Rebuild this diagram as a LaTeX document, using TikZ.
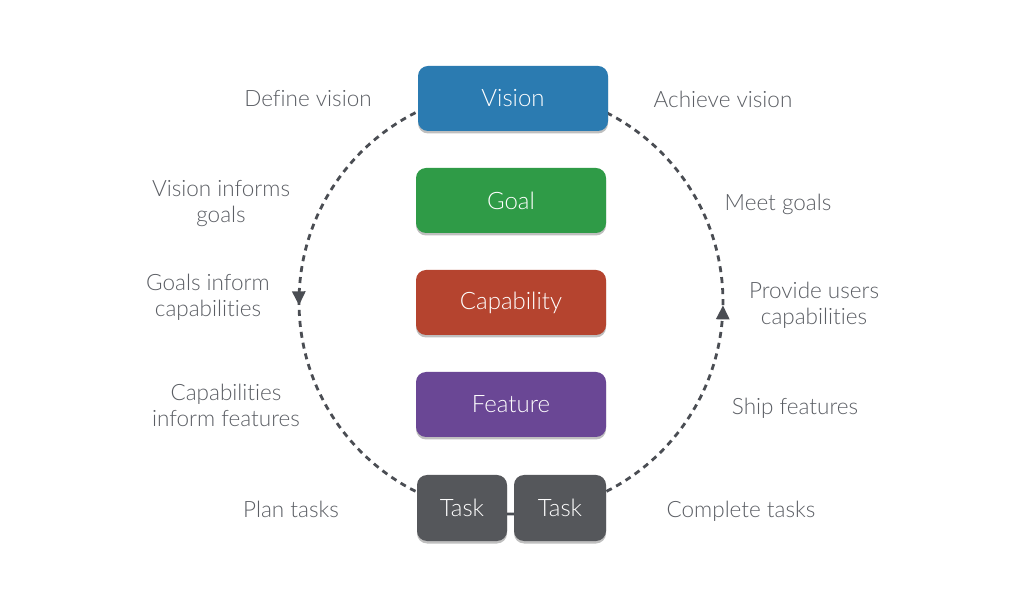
\documentclass[tikz,border=0pt]{standalone}
\usepackage{fontspec}
\setmainfont{Lato Light}[Ligatures=NoCommon]
\usetikzlibrary{arrows.meta,decorations.markings,shadows,backgrounds}

\definecolor{visionblue}{HTML}{2B7BB1}
\definecolor{goalgreen}{HTML}{2F9B47}
\definecolor{capred}{HTML}{B5442F}
\definecolor{featpurple}{HTML}{6A4795}
\definecolor{taskgray}{HTML}{55575B}
\definecolor{labelgray}{HTML}{5B5E64}
\definecolor{loopgray}{HTML}{4A4D53}

\tikzset{
  card/.style={rounded corners=10pt, minimum height=65pt, inner sep=0pt,
    text=white, font=\fontsize{24}{28}\selectfont,
    drop shadow={shadow xshift=0pt, shadow yshift=-2.5pt, opacity=0.25, fill=black}},
  widecard/.style={card, minimum width=190pt},
  taskcard/.style={card, fill=taskgray, minimum height=66pt},
  note/.style={text=labelgray, align=center, inner sep=0pt,
    font=\fontsize{22.5}{26}\selectfont},
  loop/.style={draw=loopgray, line width=2.8pt, dash pattern=on 6pt off 5pt},
  headat/.style={postaction={decorate}, decoration={markings,
    mark=at position #1 with {\arrow[solid]{Triangle[width=13pt,length=14pt]}}}}
}

\begin{document}
\begin{tikzpicture}[x=1pt,y=1pt]
  \useasboundingbox (0,0) rectangle (1024,610);

  % hierarchy cards
  \node[widecard, fill=visionblue] (vision) at (513,511.5) {Vision};
  \node[widecard, fill=goalgreen] (goal) at (511,409.5) {Goal};
  \node[widecard, fill=capred] (capability) at (511,307.5) {Capability};
  \node[widecard, fill=featpurple] (feature) at (511,205.5) {Feature};
  \node[taskcard, minimum width=90pt] (taskA) at (462,102) {Task};
  \node[taskcard, minimum width=92pt] (taskB) at (560,102) {Task};

  % planning / delivery loop behind the cards
  \coordinate (hub) at (511,308);
  \begin{scope}[on background layer]
    \fill[white] (0,0) rectangle (1024,610);
    \draw[loop, headat=0.505] (hub) ++(90:212) arc[start angle=90, end angle=270, radius=212];
    \draw[loop, headat=0.495] (hub) ++(270:212) arc[start angle=270, end angle=450, radius=212];
  \end{scope}

  % left side: planning
  \node[note] (defv) at (308,511) {Define vision};
  \node[note] (vig) at (221,406) {Vision informs\\goals};
  \node[note] (gic) at (208,313) {Goals inform\\capabilities};
  \node[note] (cif) at (226,205) {Capabilities\\inform features};
  \node[note] (plan) at (291,101) {Plan tasks};

  % right side: delivery
  \node[note] (achv) at (723,511) {Achieve vision};
  \node[note] (meet) at (778,406) {Meet goals};
  \node[note] (puc) at (814,305) {Provide users\\capabilities};
  \node[note] (ship) at (795,202) {Ship features};
  \node[note] (comp) at (741,99) {Complete tasks};
\end{tikzpicture}
\end{document}
